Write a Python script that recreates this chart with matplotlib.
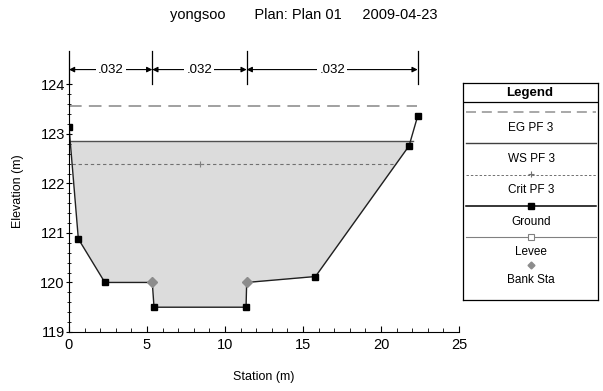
import numpy as np
import matplotlib
matplotlib.use("Agg")
import matplotlib.pyplot as plt

plt.rcParams['font.family'] = ['Liberation Sans', 'DejaVu Sans']
plt.rcParams['font.size'] = 9

# ---- data ----
ground_sta = [0.0, 0.6, 2.3, 5.34, 5.45, 11.35, 11.39, 15.8, 21.8, 22.35]
ground_elev = [123.15, 120.88, 120.0, 120.0, 119.5, 119.5, 120.0, 120.12, 122.76, 123.36]
bank_sta = [5.34, 11.39]
bank_elev = [120.0, 120.0]
ws_elev = 122.86
eg_elev = 123.57
crit_elev = 122.40
crit_sta = 8.4
n_breaks = [0.0, 5.34, 11.39, 22.35]
n_values = ['.032', '.032', '.032']

title = "yongsoo       Plan: Plan 01     2009-04-23"

fig = plt.figure(figsize=(6.03, 3.91), dpi=100)
ax = fig.add_axes([0.1144, 0.151, 0.6468, 0.7217])
ax.set_xlim(0, 25)
ax.set_ylim(119, 124.7)

gs = np.array(ground_sta)
ge = np.array(ground_elev)

# water surface extent (where ground crosses WS)
def cross(x0, y0, x1, y1, y):
    return x0 + (y - y0) * (x1 - x0) / (y1 - y0)

xl = cross(gs[0], ge[0], gs[1], ge[1], ws_elev)
xr = cross(gs[-3], ge[-3], gs[-2], ge[-2], ws_elev)
mask = (gs > xl) & (gs < xr)
fx = np.concatenate([[xl], gs[mask], [xr]])
fy = np.concatenate([[ws_elev], ge[mask], [ws_elev]])
ax.fill_between(fx, fy, ws_elev, color='#dcdcdc', lw=0)
ax.plot([xl, xr], [ws_elev, ws_elev], color='#505050', lw=1.0)

xcl = cross(gs[0], ge[0], gs[1], ge[1], crit_elev)
xcr = cross(gs[-3], ge[-3], gs[-2], ge[-2], crit_elev)
ax.plot([xcl, xcr], [crit_elev, crit_elev], color='#707070', lw=0.8, ls=(0, (3, 2.5)))
ax.plot([crit_sta], [crit_elev], marker='+', color='#808080', ms=5, mew=0.8)

ax.plot([0, 22.3], [eg_elev, eg_elev], color='#999999', lw=1.3, ls=(0, (7, 4)))

ax.plot(gs, ge, color='#202020', lw=1.0)
ax.plot(gs[[0, 1, 2, 4, 5, 7, 8, 9]], ge[[0, 1, 2, 4, 5, 7, 8, 9]], ls='none',
        marker='s', color='black', ms=4.5)
ax.plot(bank_sta, bank_elev, ls='none', marker='D', color='#8c8c8c', ms=5)

# Manning's n markers
for s in n_breaks:
    ax.plot([s, s], [124.0, 124.67], color='black', lw=0.9, clip_on=False)
for i, v in enumerate(n_values):
    a, b = n_breaks[i], n_breaks[i + 1]
    ax.annotate('', xy=(a, 124.3), xytext=(b, 124.3),
                arrowprops=dict(arrowstyle='<|-|>', color='black', lw=0.8,
                                shrinkA=0, shrinkB=0, mutation_scale=8))
    ax.text((a + b) / 2, 124.3, v, ha='center', va='center', fontsize=9.5,
            bbox=dict(facecolor='white', edgecolor='none', pad=1.5))

for sp in ['top', 'right']:
    ax.spines[sp].set_visible(False)
ax.spines['left'].set_bounds(119, 124.0)
ax.spines['bottom'].set_bounds(0, 25)
ax.set_xticks([0, 5, 10, 15, 20, 25])
ax.set_xticks(np.arange(0, 26, 1), minor=True)
ax.set_yticks([119, 120, 121, 122, 123, 124])
ax.set_yticks(np.arange(119, 124.01, 0.2), minor=True)
ax.tick_params(axis='x', which='both', direction='in', length=4, labelsize=10.5, pad=4)
ax.tick_params(axis='x', which='minor', length=3)
ax.tick_params(axis='y', which='both', direction='inout', length=4, labelsize=10.5, pad=1)
ax.tick_params(axis='y', which='minor', length=2.5)
ax.set_xlabel('Station (m)', fontsize=9, labelpad=14)
ax.set_ylabel('Elevation (m)', fontsize=9, labelpad=12)

fig.text(0.503, 0.962, title, ha='center', va='center', fontsize=10.5)

# ---- legend box ----
lg = fig.add_axes([463 / 603, (391 - 300) / 391, 135 / 603, 217 / 391])
lg.set_xlim(463, 598)
lg.set_ylim(300, 83)
lg.set_xticks([])
lg.set_yticks([])
for sp in lg.spines.values():
    sp.set_linewidth(0.9)
lg.plot([463, 598], [102, 102], color='black', lw=0.9)
lg.text(530, 93, 'Legend', ha='center', va='center', fontsize=9.5, fontweight='bold')
x0, x1, xm = 466, 596, 531
lg.plot([x0, x1], [112, 112], color='#999999', lw=1.2, ls=(0, (6, 3.5)))
lg.text(xm, 128, 'EG PF 3', ha='center', va='center', fontsize=8.5)
lg.plot([x0, x1], [143, 143], color='#404040', lw=1.0)
lg.text(xm, 159, 'WS PF 3', ha='center', va='center', fontsize=8.5)
lg.plot([x0, x1], [175, 175], color='#707070', lw=0.7, ls=(0, (2.5, 2)))
lg.plot([xm], [174], marker='+', color='#707070', ms=5, mew=0.8)
lg.text(xm, 190, 'Crit PF 3', ha='center', va='center', fontsize=8.5)
lg.plot([x0, x1], [206, 206], color='black', lw=1.1)
lg.plot([xm], [206], marker='s', color='black', ms=4)
lg.text(xm, 222, 'Ground', ha='center', va='center', fontsize=8.5)
lg.plot([x0, x1], [237, 237], color='#808080', lw=0.8)
lg.plot([xm], [237], marker='s', mfc='white', mec='#808080', ms=5, mew=0.8)
lg.text(xm, 252, 'Levee', ha='center', va='center', fontsize=8.5)
lg.plot([xm], [265], marker='D', color='#8c8c8c', ms=3.5)
lg.text(xm, 280, 'Bank Sta', ha='center', va='center', fontsize=8.5)

fig.savefig('out.png', dpi=100)
